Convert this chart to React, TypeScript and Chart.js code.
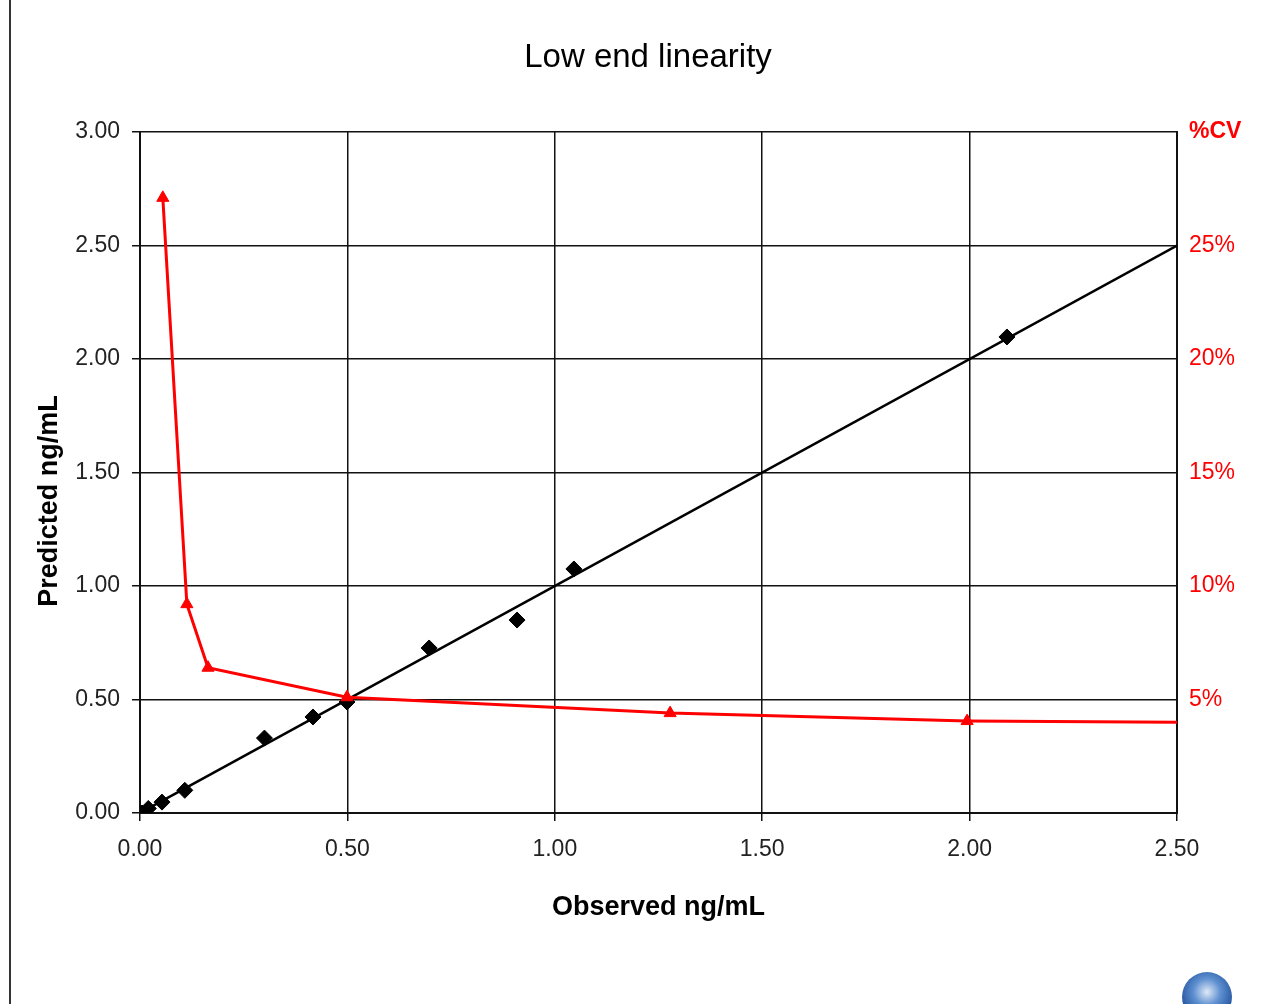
import React, { useEffect, useRef } from "react";
import { Chart, registerables } from "chart.js";

Chart.register(...registerables);

// Observed vs predicted (ng/mL)
const observed = [0.005, 0.02, 0.053, 0.108, 0.3, 0.417, 0.499, 0.697, 0.909, 1.046, 2.09];
const predicted = [0.0, 0.02, 0.048, 0.1, 0.33, 0.423, 0.489, 0.727, 0.85, 1.075, 2.097];

// Identity line
const fitX = [0, 2.5];
const fitY = [0, 2.5];

// %CV profile
const cvX = [0.055, 0.113, 0.164, 0.499, 1.278, 1.994, 2.5];
const cvY = [27.1, 9.2, 6.4, 5.1, 4.4, 4.05, 4.0];

const xTicks = [0, 0.5, 1, 1.5, 2, 2.5];
const leftTicks = [0, 0.5, 1, 1.5, 2, 2.5, 3];
const rightTicks = [0, 5, 10, 15, 20, 25, 30];

const TITLE = "Low end linearity";
const X_TITLE = "Observed ng/mL";
const Y_TITLE = "Predicted ng/mL";
const FONT = "'Liberation Sans', Arial, sans-serif";

export default function App() {
  const ref = useRef<HTMLCanvasElement | null>(null);

  useEffect(() => {
    if (!ref.current) return;
    const textPlugin = {
      id: "textPlugin",
      afterDraw(chart: any) {
        const ctx = chart.ctx;
        ctx.save();
        ctx.fillStyle = "#000";
        ctx.font = `33px ${FONT}`;
        ctx.textAlign = "center";
        ctx.textBaseline = "middle";
        ctx.fillText(TITLE, 648, 58);
        ctx.translate(50, 501);
        ctx.rotate(-Math.PI / 2);
        ctx.font = `bold 27px ${FONT}`;
        ctx.fillText(Y_TITLE, 0, 0);
        ctx.restore();
      },
    };

    const chart = new Chart(ref.current, {
      type: "scatter",
      data: {
        datasets: [
          {
            label: "%CV",
            data: cvX.map((x, i) => ({ x, y: cvY[i] })),
            yAxisID: "y1",
            showLine: true,
            borderColor: "#ff0000",
            backgroundColor: "#ff0000",
            borderWidth: 3,
            pointStyle: "triangle",
            pointRadius: cvX.map((_, i) => (i === cvX.length - 1 ? 0 : 7)),
            pointBorderWidth: 1,
          },
          {
            label: "Observed",
            data: observed.map((x, i) => ({ x, y: predicted[i] })),
            yAxisID: "y",
            showLine: false,
            pointStyle: "rectRot",
            pointRadius: 8,
            backgroundColor: "#000",
            borderColor: "#000",
            borderWidth: 1,
          },
          {
            label: "Fit",
            data: fitX.map((x, i) => ({ x, y: fitY[i] })),
            yAxisID: "y",
            showLine: true,
            borderColor: "#000",
            borderWidth: 2.5,
            pointRadius: 0,
          },
        ],
      },
      options: {
        animation: false,
        responsive: false,
        devicePixelRatio: 1,
        layout: { padding: { top: 132, left: 0, right: 0, bottom: 0 } },
        plugins: {
          legend: { display: false },
          tooltip: { enabled: false },
          title: { display: false },
        },
        scales: {
          x: {
            type: "linear",
            min: 0,
            max: 2.5,
            afterBuildTicks: (s: any) => {
              s.ticks = xTicks.map((v) => ({ value: v }));
            },
            afterFit: (s: any) => {
              s.height = 191;
            },
            ticks: {
              callback: (v: any) => Number(v).toFixed(2),
              font: { family: FONT, size: 23 },
              color: "#222",
              padding: 15,
              maxRotation: 0,
            },
            grid: { color: "#111", lineWidth: 1.5, tickLength: 8, tickColor: "#111" },
            border: { color: "#111", width: 2 },
            title: {
              display: true,
              text: X_TITLE,
              font: { family: FONT, size: 27, weight: "bold" },
              color: "#000",
              padding: { top: 0, bottom: 80 },
            },
          },
          y: {
            type: "linear",
            position: "left",
            min: 0,
            max: 3,
            afterBuildTicks: (s: any) => {
              s.ticks = leftTicks.map((v) => ({ value: v }));
            },
            afterFit: (s: any) => {
              s.width = 140;
            },
            ticks: {
              callback: (v: any) => Number(v).toFixed(2),
              font: { family: FONT, size: 23 },
              color: "#222",
              padding: 12,
            },
            grid: { color: "#111", lineWidth: 1.5, tickLength: 8, tickColor: "#111" },
            border: { color: "#111", width: 2 },
          },
          y1: {
            type: "linear",
            position: "right",
            min: 0,
            max: 30,
            afterBuildTicks: (s: any) => {
              s.ticks = rightTicks.map((v) => ({ value: v }));
            },
            afterFit: (s: any) => {
              s.width = 95;
            },
            ticks: {
              callback: (v: any) => (v === 30 ? "%CV" : v === 0 ? "" : v + "%"),
              font: (c: any) =>
                c.tick && c.tick.value === 30
                  ? { family: FONT, size: 23, weight: "bold" }
                  : { family: FONT, size: 23 },
              color: "#ff0000",
              padding: 12,
            },
            grid: { drawOnChartArea: false, drawTicks: false },
            border: { color: "#111", width: 2 },
          },
        },
      },
      plugins: [textPlugin],
    } as any);
    return () => chart.destroy();
  }, []);

  return (
    <div style={{ position: "absolute", left: 0, top: 0, width: 1272, height: 1004, overflow: "hidden", background: "#fff" }}>
      <canvas ref={ref} width={1272} height={1004} style={{ display: "block" }} />
      <div style={{ position: "absolute", left: 9, top: 0, width: 2, height: 1004, background: "#333" }} />
      <div
        style={{
          position: "absolute",
          left: 1182,
          top: 972,
          width: 50,
          height: 50,
          borderRadius: "50%",
          background: "radial-gradient(circle at 50% 40%, #dfe9f7 0%, #5d8fd0 35%, #1f4f9a 75%, #143a78 100%)",
        }}
      />
    </div>
  );
}
